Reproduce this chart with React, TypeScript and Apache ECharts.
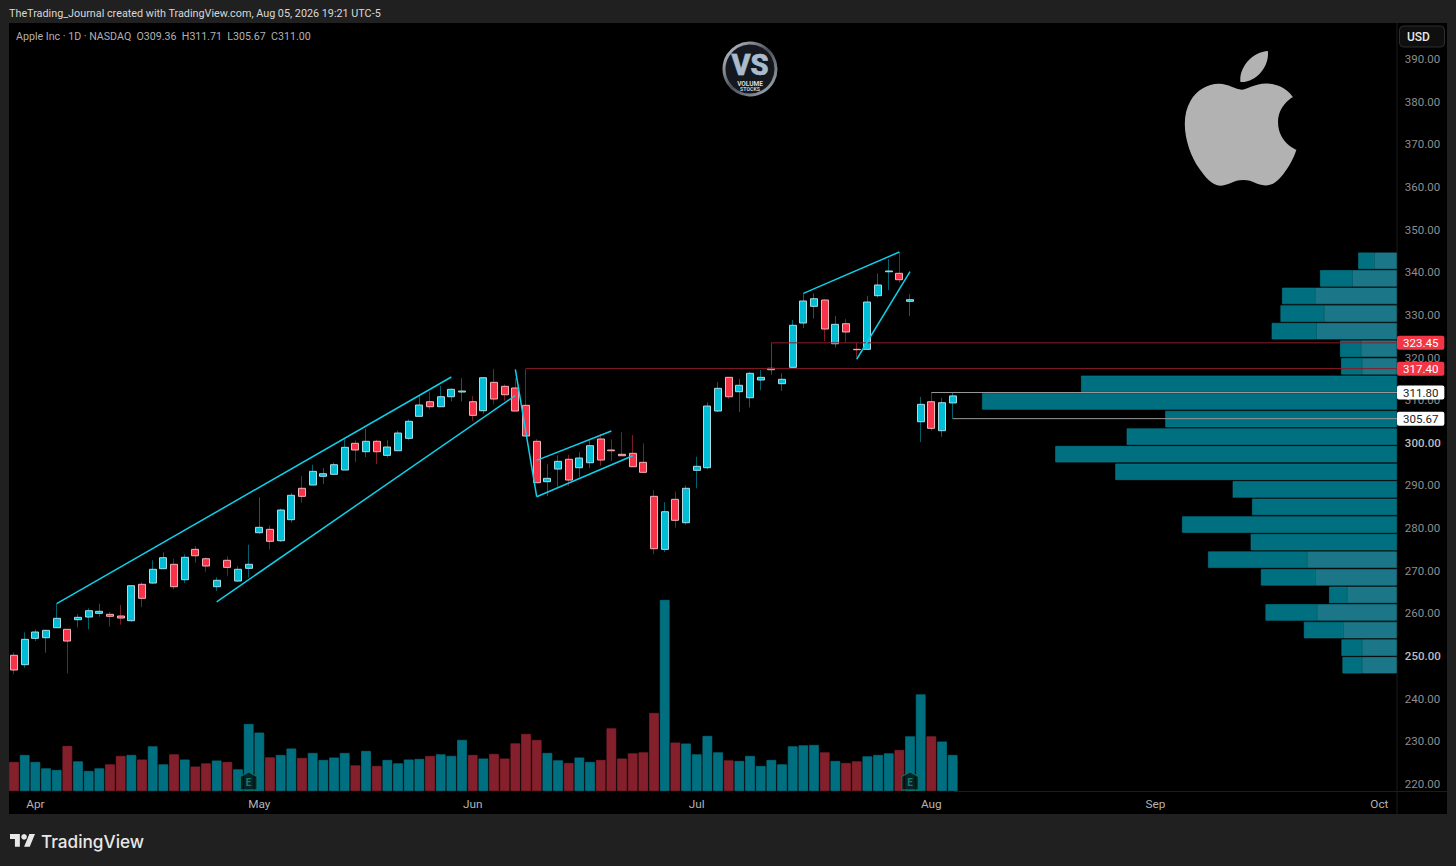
import React, { useEffect, useRef } from "react";
import * as echarts from "echarts";

const OPENS = [250.19,247.98,254.17,254.31,256.65,256.28,258.53,259.16,260.03,259.79,259.4,258.3,266.83,267.13,270.49,271.52,267.91,275.03,272.83,266.27,272.46,267.6,270.58,278.93,279.72,277.05,281.98,289.34,290.11,292.15,292.62,293.63,299.89,297.92,300.36,297.07,298.15,301.06,306.22,309.64,308.47,310.81,311.92,309.64,307.53,314.19,313.25,312.86,308.8,300.36,290.89,293.86,296.14,294.17,295.34,300.9,298.32,297.31,297.54,295.43,287.46,275.03,286.76,281.27,293.56,294.17,307.46,315.36,311.99,310.58,314.73,317.15,313.87,317.71,328.1,332.01,333.49,323.24,327.93,321.93,321.93,334.5,340.12,339.75,333.18,304.95,309.64,302.85,309.36];
const CLOSES = [246.74,253.93,255.65,256.04,258.86,253.53,259.09,260.64,260.5,259.33,258.93,266.5,263.55,270.35,273.07,266.27,273.16,273.53,271.12,267.77,270.81,270.35,271.52,280.19,276.91,284.25,287.7,287.46,293.32,292.76,294.87,298.95,298.32,300.36,297.92,299.02,302.3,305.05,308.87,308.47,310.81,312.55,312.15,306.45,315.27,310.28,311.28,307.46,301.6,290.65,291.68,295.67,291.28,296.44,299.33,295.97,298.15,296.98,294.4,293.09,275.18,283.85,281.84,289.34,294.5,308.63,312.78,310.81,313.49,316.3,315.36,317.47,314.9,327.56,333.26,333.79,326.69,327.79,325.99,321.84,333.02,337.01,340.29,338.25,333.56,309.03,303.41,309.41,311.0];
const LOWS = [245.73,247.27,253.53,250.79,256.65,245.96,256.75,256.28,259.23,256.89,257.36,258.06,261.51,266.97,270.49,265.66,267.13,271.89,269.78,265.26,268.85,267.37,268.38,278.62,275.03,276.75,281.27,285.96,290.11,290.35,292.62,293.63,295.51,296.68,295.04,296.51,298.15,300.59,306.22,307.86,308.47,309.74,309.74,305.19,306.83,309.03,309.88,307.46,301.53,290.65,287.53,289.71,289.88,291.92,294.1,294.57,295.74,296.98,294.4,293.09,273.93,274.4,280.1,280.8,289.34,293.79,307.23,310.35,307.23,308.33,312.32,315.97,312.15,317.71,326.92,329.1,323.88,322.4,323.48,320.05,321.93,334.03,335.83,337.55,329.74,300.19,302.85,301.44,305.67];
const HIGHS = [250.88,255.57,256.28,256.18,262.28,256.28,259.87,261.2,262.28,260.33,261.98,266.59,267.3,272.46,274.33,272.83,273.86,275.81,273.16,268.47,273.39,271.12,276.11,287.23,280.66,284.56,288.31,292.22,294.87,294.1,295.34,300.83,300.59,303.31,300.73,300.66,302.84,305.52,310.98,311.92,313.32,312.78,315.13,310.98,315.36,317.31,313.72,315.2,317.4,300.9,294.96,297.08,297.22,297.78,300.66,302.07,300.83,302.54,301.84,299.89,288.94,286.06,288.54,290.04,296.75,309.5,314.26,315.36,314.97,316.68,317.08,323.45,316.3,328.8,335.06,335.06,333.65,329.74,329.03,323.48,334.43,339.75,343.1,344.74,334.9,310.75,311.8,310.58,311.71];
const VOLUMES = [14.5,18,14.5,11.3,10.5,22.5,14.8,10,11.3,13.3,17.5,18,15.7,22.3,13.3,18.3,15.7,12.2,13.8,15.2,14.5,10.8,33.5,29.2,16.8,18,21.2,16.5,19,15.5,16.7,19,12.8,20,12.5,15.5,13.8,15.7,16,17.5,18.3,17.5,25.5,18,16.2,18.5,16.2,23.8,28.5,25.5,19,15.3,14,16.7,14.5,15.5,31.3,16.2,18.8,19.3,39,95.5,24.2,23.7,18.3,27.5,19.3,15.3,15,17.5,12.5,15.5,13.3,22.3,22.8,23,19.3,15,14,14.8,17.3,18,18.8,20.5,27.3,48.3,27.3,24.7,18];

const MONTHS: Record<number, string> = { 2: "Apr", 23: "May", 43: "Jun", 64: "Jul", 86: "Aug", 107: "Sep", 128: "Oct" };
const SESSIONS = Array.from({ length: 130 }, (_, i) => MONTHS[i] ?? `d${i}`);
const PRICE_TICKS = [220,230,240,250,260,270,280,290,300,310,320,330,340,350,360,370,380,390];
const MAJOR_TICKS = [250, 300];

const VP_LEVELS = ["344","340","336","332","328","324","320","316","312","308","303","299","295","291","287","283","279","275","270","266","262","258","254","250"];
const VP_OUTER = [8,16.3,16.5,21.8,22.5,10.5,10.5,157.8,207.3,115.7,135,170.7,140.7,82,72.3,107.3,73,49.5,27.2,9,25.8,19.7,10.3,9.8];
const VP_INNER = [11.2,22,40.8,36.3,40,17.8,17.3,null,null,null,null,null,null,null,null,null,null,44.8,40.7,24.8,39.8,26.7,17.3,17.3];

const TREND_LINES = [
  [[4,262.28],[41,315.44]],
  [[19,262.74],[47,311.1]],
  [[47,317.24],[49,287.37]],
  [[49,287.37],[58,296.98]],
  [[49,295.9],[56,302.78]],
  [[74,335.06],[83,344.74]],
  [[79,319.6],[84,340.13]],
];
const LEVELS = [
  { from: 48, price: 317.4, tag: "317.40", line: "#8c1c2a", bg: "#f23645", fg: "#ffffff" },
  { from: 71, price: 323.45, tag: "323.45", line: "#8c1c2a", bg: "#f23645", fg: "#ffffff" },
  { from: 86, price: 311.8, tag: "311.80", line: "#9a9a9a", bg: "#ffffff", fg: "#222222" },
  { from: 88, price: 305.67, tag: "305.67", line: "#9a9a9a", bg: "#ffffff", fg: "#222222" },
];
const EARNINGS = [22, 84];

const FONT = "Roboto, Inter, sans-serif";
const APPLE = "M12.152 6.896c-.948 0-2.415-1.078-3.96-1.04-2.04.027-3.91 1.183-4.961 3.014-2.117 3.675-.546 9.103 1.519 12.09 1.013 1.454 2.208 3.09 3.792 3.039 1.52-.065 2.09-.987 3.935-.987 1.831 0 2.35.987 3.96.948 1.637-.026 2.676-1.48 3.676-2.948 1.156-1.688 1.636-3.325 1.662-3.415-.039-.013-3.182-1.221-3.22-4.857-.026-3.04 2.48-4.494 2.597-4.559-1.429-2.09-3.623-2.324-4.39-2.376-2-.156-3.675 1.09-4.61 1.09zM15.53 3.83c.843-1.012 1.4-2.427 1.245-3.83-1.207.052-2.662.805-3.532 1.818-.78.896-1.454 2.338-1.273 3.714 1.338.104 2.715-.688 3.559-1.701";
echarts.graphic.registerShape("appleLogo", echarts.graphic.extendPath(APPLE, {}));
echarts.graphic.registerShape("tvLogo", echarts.graphic.extendPath("M14 22H7V11H0V4h14v18zM28 22h-8l7.5-18h8L28 22z", {}));

export default function App() {
  const ref = useRef<HTMLDivElement>(null);
  useEffect(() => {
    document.body.style.margin = "0";
    document.body.style.background = "#202020";
    const chart = echarts.init(ref.current!, null, { renderer: "svg" });
    const gridLeft = 8.67;
    const gridWidth = 1386.7;
    const candles = OPENS.map((o, i) => [o, CLOSES[i], LOWS[i], HIGHS[i]]);
    const bodies = OPENS.map((o, i) => [o, CLOSES[i], Math.min(o, CLOSES[i]), Math.max(o, CLOSES[i])]);
    const volumeBars = VOLUMES.map((v, i) => {
      const up = CLOSES[i] >= OPENS[i];
      return { value: v, itemStyle: { color: up ? "#006f80" : "#83202b", borderColor: up ? "#05798b" : "#8f2530" } };
    });
    const ringGrad = new echarts.graphic.LinearGradient(0, 0, 1, 1, [
      { offset: 0, color: "#c8ced6" },
      { offset: 0.5, color: "#4b5058" },
      { offset: 1, color: "#aab2bc" },
    ]);
    chart.setOption({
      animation: false,
      backgroundColor: "#202020",
      textStyle: { fontFamily: FONT },
      tooltip: { show: false },
      graphic: [
        { type: "rect", z: -10, silent: true, shape: { x: 9, y: 23, width: 1438, height: 791 }, style: { fill: "#000000" } },
        { type: "line", z: -9, silent: true, shape: { x1: 1397, y1: 23, x2: 1397, y2: 814 }, style: { stroke: "#1c1c1c", lineWidth: 1 } },
        { type: "line", z: -9, silent: true, shape: { x1: 954, y1: 791.5, x2: 1447, y2: 791.5 }, style: { stroke: "#1c1c1c", lineWidth: 1 } },
        { type: "text", x: 9, y: 13, style: { text: "TheTrading_Journal created with TradingView.com, Aug 05, 2026 19:21 UTC-5", fill: "#d8d8d8", font: `400 10.8px ${FONT}`, verticalAlign: "middle" } },
        { type: "text", x: 16, y: 36, style: { text: "Apple Inc · 1D · NASDAQ  O309.36  H311.71  L305.67  C311.00", fill: "#b0b0b0", font: `400 10.65px ${FONT}`, verticalAlign: "middle" } },
        { type: "rect", shape: { x: 1399.5, y: 26, width: 45, height: 21, r: 4 }, style: { fill: "#0f0f0f", stroke: "#2e2e2e", lineWidth: 1 } },
        { type: "text", x: 1407, y: 36.5, style: { text: "USD", fill: "#e8e8e8", font: `500 12px ${FONT}`, verticalAlign: "middle" } },
        { type: "appleLogo", x: 1172.1, y: 51, scaleX: 5.71, scaleY: 5.61, style: { fill: "#b2b2b2" } },
        { type: "tvLogo", x: 10, y: 831.2, scaleX: 0.704, scaleY: 0.704, style: { fill: "#e8e8e8" } },
        { type: "circle", shape: { cx: 10 + 20 * 0.704, cy: 831.2 + 8 * 0.704, r: 4 * 0.704 }, style: { fill: "#e8e8e8" } },
        { type: "text", x: 41, y: 841, style: { text: "TradingView", fill: "#e8e8e8", font: `500 17.2px Inter, sans-serif`, verticalAlign: "middle" } },
        { type: "circle", shape: { cx: 750, cy: 69, r: 26 }, style: { fill: "#14181e", stroke: ringGrad, lineWidth: 3 } },
        { type: "text", x: 750, y: 65, style: { text: "VS", fill: "#a9bccf", stroke: "#dfe6ee", lineWidth: 0.5, font: `800 29px ${FONT}`, align: "center", verticalAlign: "middle" } },
        { type: "text", x: 750, y: 83.5, style: { text: "VOLUME", fill: "#d8dde2", font: `700 6.5px ${FONT}`, align: "center", verticalAlign: "middle" } },
        { type: "text", x: 750, y: 88.8, style: { text: "STOCKS", fill: "#c8cdd2", font: `700 5.2px ${FONT}`, align: "center", verticalAlign: "middle" } },
      ],
      grid: [
        { left: gridLeft, top: 23, width: gridWidth, height: 768 },
        { left: gridLeft, top: 591, width: gridWidth, height: 200 },
        { left: 9, top: 252, width: 1387.7, height: 422 },
      ],
      xAxis: [
        {
          type: "category", gridIndex: 0, data: SESSIONS, boundaryGap: true,
          axisLine: { show: false }, axisTick: { show: false }, splitLine: { show: false },
          axisLabel: { interval: (i: number) => MONTHS[i] !== undefined, color: "#b4b4b4", fontSize: 11.8, margin: 7, fontFamily: FONT },
        },
        { type: "category", gridIndex: 1, data: SESSIONS, show: false },
        { type: "value", gridIndex: 2, inverse: true, min: 0, max: 693.85, show: false },
      ],
      yAxis: [
        {
          type: "value", gridIndex: 0, position: "right", min: 218.37, max: 398.44, scale: true,
          axisLine: { show: false }, axisTick: { show: false }, splitLine: { show: false },
          axisLabel: {
            customValues: PRICE_TICKS, margin: 9.5, fontSize: 11.5, color: "#8e8e8e", fontFamily: FONT,
            formatter: (v: number) => (MAJOR_TICKS.includes(v) ? `{b|${v.toFixed(2)}}` : `{n|${v.toFixed(2)}}`),
            rich: {
              n: { color: "#8e8e8e", fontSize: 11.5, fontFamily: FONT },
              b: { color: "#bdbdbd", fontSize: 11.5, fontWeight: 500, fontFamily: FONT },
            },
          },
        },
        { type: "value", gridIndex: 1, min: 0, max: 100, show: false },
        { type: "category", gridIndex: 2, inverse: true, data: VP_LEVELS, show: false },
      ],
      series: [
        { type: "bar", name: "VP inner", xAxisIndex: 2, yAxisIndex: 2, stack: "vp", barWidth: 16.4, data: VP_INNER, z: 1, itemStyle: { color: "#1b7787", borderColor: "#1b7f8f", borderWidth: 0.6 } },
        { type: "bar", name: "VP outer", xAxisIndex: 2, yAxisIndex: 2, stack: "vp", barWidth: 16.4, data: VP_OUTER, z: 1, itemStyle: { color: "#006f80", borderColor: "#05808f", borderWidth: 0.6 } },
        { type: "bar", name: "Volume", xAxisIndex: 1, yAxisIndex: 1, barWidth: 9.6, data: volumeBars, z: 2, itemStyle: { borderWidth: 0.6 } },
        {
          type: "scatter", name: "Earnings", xAxisIndex: 1, yAxisIndex: 1, z: 5,
          data: EARNINGS.map((i) => [i, 5]),
          symbol: "path://M8.5 0 L17 4.5 L17 18 L0 18 L0 4.5 Z", symbolSize: [16.5, 18],
          itemStyle: { color: "#08100f", borderColor: "#0c7a6c", borderWidth: 1.2 },
          label: { show: true, position: "inside", formatter: "E", color: "#149682", fontSize: 10, fontWeight: 700, offset: [0, 1] },
        },
        {
          type: "candlestick", name: "Wicks", xAxisIndex: 0, yAxisIndex: 0, barWidth: 1, data: candles, z: 3,
          itemStyle: { color: "#00606e", color0: "#7a1c28", borderColor: "#00606e", borderColor0: "#7a1c28", borderWidth: 1 },
        },
        {
          type: "candlestick", name: "AAPL", xAxisIndex: 0, yAxisIndex: 0, barWidth: 7.4, data: bodies, z: 4,
          itemStyle: { color: "#00bcd4", color0: "#f7334a", borderColor: "#a9dde6", borderColor0: "#f3b4bc", borderWidth: 1 },
        },
        ...LEVELS.map((l) => ({
          type: "line", name: `Level ${l.tag}`, xAxisIndex: 0, yAxisIndex: 0, z: 6, clip: false, symbol: "none", silent: true,
          data: [[l.from, l.price], [129.62, l.price]],
          lineStyle: { color: l.line, width: 1 },
          endLabel: {
            show: true, formatter: () => l.tag, backgroundColor: l.bg, color: l.fg, fontSize: 11.5, fontFamily: FONT,
            padding: [1, 6, 1, 6], borderRadius: 2, distance: 0, lineHeight: 12,
          },
        })),
        ...TREND_LINES.map((d, i) => ({
          type: "line", name: `Trend ${i + 1}`, xAxisIndex: 0, yAxisIndex: 0, z: 7, symbol: "none", silent: true,
          data: d, lineStyle: { color: "#0fd0ea", width: 1.5 },
        })),
      ],
    });
    return () => chart.dispose();
  }, []);
  return <div ref={ref} style={{ position: "absolute", left: 0, top: 0, width: 1456, height: 866 }} />;
}
